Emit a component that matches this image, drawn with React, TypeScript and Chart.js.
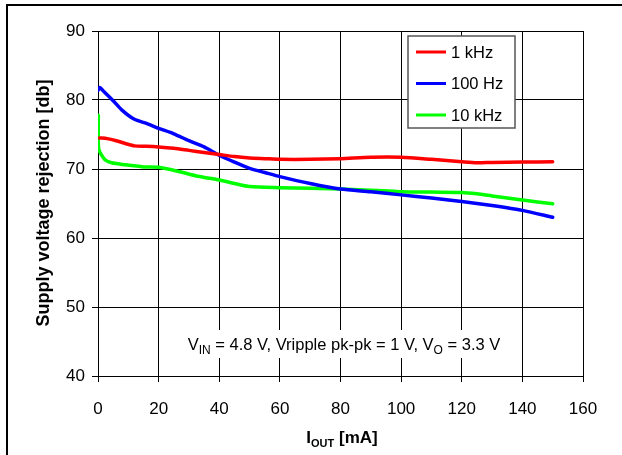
import React, { useEffect, useRef } from "react";
import { Chart, registerables } from "chart.js";

Chart.register(...registerables);

// ---- Data ----
const seriesLabels = ["1 kHz", "100 Hz", "10 kHz"];
const seriesColors = ["#ff0000", "#0000ff", "#00ff00"];

const khz1X = [0.5, 3, 6, 9, 12, 16, 20, 25, 30, 35, 40, 45, 50, 55, 60, 70, 80, 90, 100, 110, 120, 125, 130, 140, 150];
const khz1Y = [74.5, 74.4, 74.1, 73.7, 73.35, 73.3, 73.2, 73.0, 72.7, 72.4, 72.1, 71.8, 71.6, 71.5, 71.4, 71.4, 71.5, 71.7, 71.7, 71.4, 71.05, 70.9, 70.95, 71.0, 71.05];

const hz100X = [0, 0.5, 2, 5, 8, 12, 16, 20, 25, 30, 35, 40, 45, 50, 55, 60, 70, 80, 90, 100, 110, 120, 130, 140, 150];
const hz100Y = [81.4, 81.8, 81.2, 79.9, 78.5, 77.2, 76.6, 75.9, 75.1, 74.1, 73.2, 72.0, 71.0, 70.1, 69.5, 68.9, 67.9, 67.1, 66.7, 66.25, 65.8, 65.3, 64.7, 64.0, 63.0];

const khz10X = [0.1, 0.1, 0.3, 0.8, 2.4, 4.5, 9, 15, 20, 27, 33, 40, 45, 50, 60, 80, 96, 100, 110, 120, 125, 130, 140, 150];
const khz10Y = [77.8, 73.7, 72.8, 72.3, 71.3, 70.9, 70.6, 70.3, 70.25, 69.6, 68.95, 68.4, 67.9, 67.45, 67.3, 67.1, 66.8, 66.7, 66.65, 66.6, 66.4, 66.1, 65.5, 64.95];

const xMin = 0, xMax = 160, xStep = 20;
const yMin = 40, yMax = 90, yStep = 10;

const yTitle = "Supply voltage rejection [db]";
const xTitleParts = [
  { t: "I", sub: false },
  { t: "OUT", sub: true },
  { t: " [mA]", sub: false },
];
const noteParts = [
  { t: "V", sub: false },
  { t: "IN", sub: true },
  { t: " = 4.8 V, Vripple pk-pk = 1 V, V", sub: false },
  { t: "O", sub: true },
  { t: " = 3.3 V", sub: false },
];

const FONT = "'Liberation Sans', Arial, sans-serif";

const zip = (xs: number[], ys: number[]) => xs.map((x, i) => ({ x, y: ys[i] }));

function measureParts(
  ctx: CanvasRenderingContext2D,
  parts: { t: string; sub: boolean }[],
  size: number,
  subSize: number,
  weight: string
) {
  return parts.map((p) => {
    ctx.font = `${weight} ${p.sub ? subSize : size}px ${FONT}`;
    return ctx.measureText(p.t).width;
  });
}

function drawParts(
  ctx: CanvasRenderingContext2D,
  parts: { t: string; sub: boolean }[],
  cx: number,
  baseline: number,
  size: number,
  subSize: number,
  subDrop: number,
  weight: string
) {
  const widths = measureParts(ctx, parts, size, subSize, weight);
  const total = widths.reduce((a, b) => a + b, 0);
  let x = cx - total / 2;
  ctx.textAlign = "left";
  ctx.textBaseline = "alphabetic";
  parts.forEach((p, i) => {
    ctx.font = `${weight} ${p.sub ? subSize : size}px ${FONT}`;
    ctx.fillText(p.t, x, baseline + (p.sub ? subDrop : 0));
    x += widths[i];
  });
  return total;
}

const decorPlugin = {
  id: "decor",
  afterDraw(chart: any) {
    const ctx: CanvasRenderingContext2D = chart.ctx;
    ctx.save();
    ctx.fillStyle = "#000";

    // outer frame lines (top and left)
    ctx.fillRect(6, 4, 616, 2);
    ctx.fillRect(6, 4, 2, 451);

    // annotation with white background
    const nW = measureParts(ctx, noteParts, 16.5, 12, "normal").reduce((a, b) => a + b, 0);
    const ncx = 344;
    ctx.fillStyle = "#fff";
    ctx.fillRect(ncx - nW / 2 - 2, 330, nW + 4, 28);
    ctx.fillStyle = "#000";
    drawParts(ctx, noteParts, ncx, 350, 16.5, 12, 4, "normal");

    // x-axis title
    drawParts(ctx, xTitleParts, 342, 443, 17, 11, 4, "bold");

    // y-axis title
    ctx.save();
    ctx.translate(44, 203);
    ctx.rotate(-Math.PI / 2);
    ctx.font = `bold 18px ${FONT}`;
    ctx.textAlign = "center";
    ctx.textBaseline = "middle";
    ctx.fillText(yTitle, 0, 0);
    ctx.restore();

    // legend box
    const lx = 408, ly = 36, lw = 107, lh = 92;
    ctx.fillStyle = "#fff";
    ctx.fillRect(lx, ly, lw, lh);
    ctx.strokeStyle = "#555";
    ctx.lineWidth = 1.5;
    ctx.strokeRect(lx, ly, lw, lh);
    const rows = [52, 83.5, 115];
    chart.data.datasets.forEach((ds: any, i: number) => {
      ctx.strokeStyle = ds.borderColor;
      ctx.lineWidth = 3;
      ctx.beginPath();
      ctx.moveTo(416, rows[i]);
      ctx.lineTo(446, rows[i]);
      ctx.stroke();
      ctx.fillStyle = "#000";
      ctx.font = `16.5px ${FONT}`;
      ctx.textAlign = "left";
      ctx.textBaseline = "middle";
      ctx.fillText(ds.label, 451, rows[i] + 1);
    });

    ctx.restore();
  },
};

export default function App() {
  const ref = useRef<HTMLCanvasElement>(null);

  useEffect(() => {
    const canvas = ref.current;
    if (!canvas) return;
    const xsList = [khz1X, hz100X, khz10X];
    const ysList = [khz1Y, hz100Y, khz10Y];
    const chart = new Chart(canvas, {
      type: "line",
      data: {
        datasets: seriesLabels.map((label, i) => ({
          label,
          data: zip(xsList[i], ysList[i]),
          borderColor: seriesColors[i],
          backgroundColor: seriesColors[i],
          borderWidth: 3.5,
          pointRadius: 0,
          tension: 0.25,
          borderCapStyle: "round",
          borderJoinStyle: "round",
          fill: false,
        })),
      },
      options: {
        animation: false,
        responsive: false,
        events: [],
        layout: { padding: { left: 0, top: 31, right: 39, bottom: 0 } },
        plugins: { legend: { display: false }, tooltip: { enabled: false } },
        scales: {
          x: {
            type: "linear",
            min: xMin,
            max: xMax,
            ticks: {
              stepSize: xStep,
              color: "#000",
              padding: 17,
              maxRotation: 0,
              font: { family: FONT, size: 17 },
            },
            grid: { color: "#000", lineWidth: 1, tickLength: 6, tickColor: "#000" },
            border: { color: "#000", width: 1 },
            afterFit: (s: any) => {
              s.height = 79;
            },
          },
          y: {
            type: "linear",
            min: yMin,
            max: yMax,
            ticks: {
              stepSize: yStep,
              color: "#000",
              padding: 7,
              font: { family: FONT, size: 17 },
            },
            grid: { color: "#000", lineWidth: 1, tickLength: 6, tickColor: "#000" },
            border: { color: "#000", width: 1 },
            afterFit: (s: any) => {
              s.width = 98;
            },
          },
        },
      },
      plugins: [decorPlugin],
    } as any);
    return () => chart.destroy();
  }, []);

  return (
    <div style={{ position: "fixed", left: 0, top: 0, width: 622, height: 455, background: "#fff" }}>
      <canvas ref={ref} width={622} height={455} style={{ display: "block" }} />
    </div>
  );
}
